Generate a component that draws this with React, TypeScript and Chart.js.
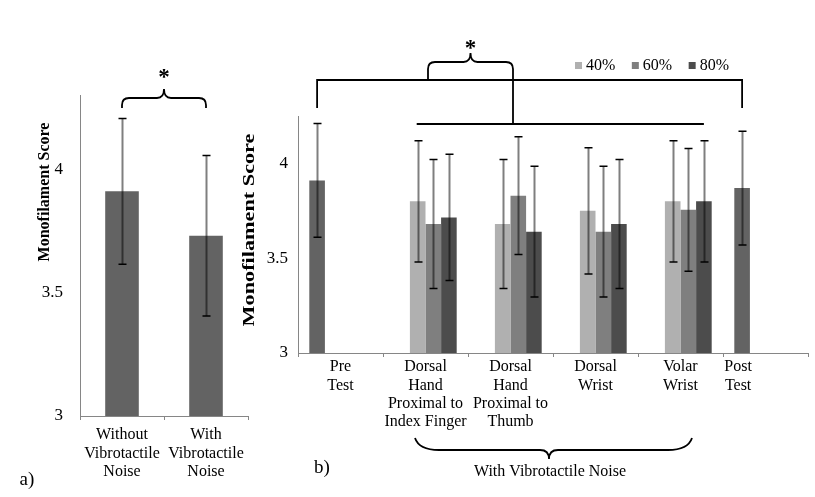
import React, { useEffect, useRef } from 'react';
import { Chart, registerables } from 'chart.js';

Chart.register(...registerables);

const FONT = "'Liberation Serif', 'Times New Roman', serif";

// ---- Panel a data ----
const A_LABELS = [
  ['Without', 'Vibrotactile', 'Noise'],
  ['With', 'Vibrotactile', 'Noise'],
];
const A_MEANS = [3.91, 3.73];
const A_ERRORS = [0.295, 0.325];
const A_TICKS = [3, 3.5, 4];

// ---- Panel b data ----
const B_LABELS = [
  ['Pre', 'Test'],
  ['Dorsal', 'Hand', 'Proximal to', 'Index Finger'],
  ['Dorsal', 'Hand', 'Proximal to', 'Thumb'],
  ['Dorsal', 'Wrist'],
  ['Volar', 'Wrist'],
  ['Post', 'Test'],
];
const B_SERIES = ['Pre/Post Test', '40%', '60%', '80%'];
const B_PREPOST = [3.91, null, null, null, null, 3.87];
const B_PREPOST_ERR = [0.3, null, null, null, null, 0.3];
const B_40 = [null, 3.8, 3.68, 3.75, 3.8, null];
const B_40_ERR = [null, 0.32, 0.34, 0.333, 0.32, null];
const B_60 = [null, 3.68, 3.83, 3.64, 3.755, null];
const B_60_ERR = [null, 0.34, 0.31, 0.345, 0.324, null];
const B_80 = [null, 3.715, 3.64, 3.68, 3.8, null];
const B_80_ERR = [null, 0.333, 0.345, 0.34, 0.32, null];
const B_TICKS = [3, 3.5, 4];
const B_COLORS = ['#636363', '#b0b0b0', '#7f7f7f', '#4c4c4c'];

const errorBarPlugin = {
  id: 'errorBars',
  afterDatasetsDraw(chart: any) {
    const ctx = chart.ctx;
    const ys = chart.scales.y;
    chart.data.datasets.forEach((ds: any, i: number) => {
      const errs = ds.errors;
      if (!errs) return;
      const meta = chart.getDatasetMeta(i);
      meta.data.forEach((bar: any, j: number) => {
        const v = ds.data[j];
        const e = errs[j];
        if (v == null || e == null) return;
        const x = Math.round(bar.x) + 0.5;
        const yt = ys.getPixelForValue(v + e);
        const yb = ys.getPixelForValue(v - e);
        ctx.save();
        ctx.strokeStyle = 'rgba(0,0,0,0.5)';
        ctx.lineWidth = 2;
        ctx.beginPath();
        ctx.moveTo(x, yt);
        ctx.lineTo(x, yb);
        ctx.stroke();
        ctx.strokeStyle = '#000';
        ctx.lineWidth = 1.5;
        ctx.beginPath();
        ctx.moveTo(x - 4, yt);
        ctx.lineTo(x + 4, yt);
        ctx.moveTo(x - 4, yb);
        ctx.lineTo(x + 4, yb);
        ctx.stroke();
        ctx.restore();
      });
    });
  },
};

function rotatedText(ctx: CanvasRenderingContext2D, text: string, cx: number, cy: number, font: string, stretch: number) {
  ctx.save();
  ctx.translate(cx, cy);
  ctx.rotate(-Math.PI / 2);
  ctx.scale(stretch, 1);
  ctx.font = font;
  ctx.fillStyle = '#000';
  ctx.textAlign = 'center';
  ctx.textBaseline = 'middle';
  ctx.fillText(text, 0, 0);
  ctx.restore();
}

function text(ctx: CanvasRenderingContext2D, t: string, x: number, y: number, font: string, align: CanvasTextAlign = 'center', baseline: CanvasTextBaseline = 'middle') {
  ctx.save();
  ctx.font = font;
  ctx.fillStyle = '#000';
  ctx.textAlign = align;
  ctx.textBaseline = baseline;
  ctx.fillText(t, x, y);
  ctx.restore();
}

// upward pointing brace: legs end at yEnd (left) / yEndR (right)
function braceUp(ctx: CanvasRenderingContext2D, x1: number, x2: number, yEnd: number, yEndR: number, yTop: number, apexX: number, yApex: number, r: number) {
  ctx.beginPath();
  ctx.moveTo(x1, yEnd);
  ctx.lineTo(x1, yTop + r);
  ctx.quadraticCurveTo(x1, yTop, x1 + r, yTop);
  ctx.lineTo(apexX - r, yTop);
  ctx.quadraticCurveTo(apexX, yTop, apexX, yApex);
  ctx.quadraticCurveTo(apexX, yTop, apexX + r, yTop);
  ctx.lineTo(x2 - r, yTop);
  ctx.quadraticCurveTo(x2, yTop, x2, yTop + r);
  ctx.lineTo(x2, yEndR);
  ctx.stroke();
}

const annotationsA = {
  id: 'annotA',
  afterDraw(chart: any) {
    const ctx = chart.ctx;
    const bars = chart.getDatasetMeta(0).data;
    rotatedText(ctx, 'Monofilament Score', 45, 192, `bold 16px ${FONT}`, 1);
    ctx.save();
    ctx.strokeStyle = '#000';
    ctx.lineWidth = 1.8;
    const x1 = bars[0].x;
    const x2 = bars[1].x;
    const mid = (x1 + x2) / 2;
    braceUp(ctx, x1, x2, 108, 108, 98, mid, 89, 7);
    ctx.restore();
    text(ctx, '*', mid, 84, `bold 23px ${FONT}`, 'center', 'alphabetic');
    text(ctx, 'a)', 27, 480, `19px ${FONT}`);
  },
};

const annotationsB = {
  id: 'annotB',
  afterDraw(chart: any) {
    const ctx = chart.ctx;
    const xs = chart.scales.x;
    const area = chart.chartArea;
    const pre = chart.getDatasetMeta(0).data;
    const d40 = chart.getDatasetMeta(1).data;
    const d80 = chart.getDatasetMeta(3).data;
    const n = B_LABELS.length;

    // category labels
    B_LABELS.forEach((lines, i) => {
      const cx = i === n - 1 ? pre[i].x - 4 : xs.getPixelForValue(i);
      lines.forEach((ln, k) => {
        text(ctx, ln, cx, area.bottom + 14 + k * 18.4, `16px ${FONT}`);
      });
    });

    rotatedText(ctx, 'Monofilament Score', 20, 230, `bold 16px ${FONT}`, 1.39);

    // legend
    ctx.save();
    ctx.font = `16px ${FONT}`;
    let lx = 345;
    for (let s = 1; s < B_SERIES.length; s++) {
      ctx.fillStyle = B_COLORS[s];
      ctx.fillRect(lx, 62, 7, 7);
      ctx.fillStyle = '#000';
      ctx.textAlign = 'left';
      ctx.textBaseline = 'middle';
      ctx.fillText(B_SERIES[s], lx + 11, 66);
      lx += 11 + ctx.measureText(B_SERIES[s]).width + 16.5;
    }
    ctx.restore();

    ctx.save();
    ctx.strokeStyle = '#000';
    ctx.lineWidth = 1.8;
    // big bracket
    const bx1 = pre[0].x;
    const bx2 = pre[n - 1].x;
    ctx.beginPath();
    ctx.moveTo(bx1, 108);
    ctx.lineTo(bx1, 80);
    ctx.lineTo(bx2, 80);
    ctx.lineTo(bx2, 108);
    ctx.stroke();
    // lower line over noise conditions
    ctx.beginPath();
    ctx.moveTo(d40[1].x - 1, 124);
    ctx.lineTo(d80[n - 2].x, 124);
    ctx.stroke();
    // curly brace joining
    braceUp(ctx, 198, 283, 80, 124, 62, 240.5, 53, 7);
    // bottom brace (pointing down)
    const y0 = 438, yh = 450, ya = 459, apx = 319, L = 185, R = 462;
    ctx.beginPath();
    ctx.moveTo(L, y0);
    ctx.quadraticCurveTo(L + 4, yh, L + 24, yh);
    ctx.lineTo(apx - 9, yh);
    ctx.quadraticCurveTo(apx, yh, apx, ya);
    ctx.quadraticCurveTo(apx, yh, apx + 9, yh);
    ctx.lineTo(R - 24, yh);
    ctx.quadraticCurveTo(R - 4, yh, R, y0);
    ctx.stroke();
    ctx.restore();

    text(ctx, '*', 240.5, 55, `bold 23px ${FONT}`, 'center', 'alphabetic');
    text(ctx, 'With Vibrotactile Noise', 320, 472, `16px ${FONT}`);
    text(ctx, 'b)', 92, 468, `19px ${FONT}`);
  },
};

const tickFmt = (v: any) => String(Number(v));

export default function App() {
  const refA = useRef<HTMLCanvasElement>(null);
  const refB = useRef<HTMLCanvasElement>(null);

  useEffect(() => {
    const axisGray = '#868686';
    const chartA = new Chart(refA.current as HTMLCanvasElement, {
      type: 'bar',
      data: {
        labels: A_LABELS,
        datasets: [
          {
            label: 'Monofilament Score',
            data: A_MEANS,
            errors: A_ERRORS,
            backgroundColor: '#636363',
            barPercentage: 0.4,
            categoryPercentage: 1,
          } as any,
        ],
      },
      options: {
        responsive: false,
        animation: false,
        layout: { padding: { left: 0, right: 12, top: 95, bottom: 0 } },
        plugins: { legend: { display: false }, tooltip: { enabled: false }, title: { display: false } },
        scales: {
          x: {
            grid: { display: true, drawOnChartArea: false, drawTicks: true, tickLength: 4, color: axisGray, offset: true },
            border: { display: true, color: axisGray, width: 1 },
            ticks: {
              font: { family: FONT, size: 16, lineHeight: 1.15 },
              color: '#000',
              padding: 6,
              maxRotation: 0,
              minRotation: 0,
              autoSkip: false,
            },
            afterFit: (s: any) => {
              s.height = 81;
            },
          },
          y: {
            min: 3,
            max: 4.3,
            grid: { display: false, drawTicks: false },
            border: { display: true, color: axisGray, width: 1 },
            ticks: { font: { family: FONT, size: 17 }, color: '#000', padding: 17, callback: tickFmt },
            afterBuildTicks: (s: any) => {
              s.ticks = A_TICKS.map((v) => ({ value: v }));
            },
            afterFit: (s: any) => {
              s.width = 80;
            },
          },
        },
      },
      plugins: [errorBarPlugin, annotationsA],
    } as any);

    const dsB = [
      [B_PREPOST, B_PREPOST_ERR],
      [B_40, B_40_ERR],
      [B_60, B_60_ERR],
      [B_80, B_80_ERR],
    ].map(([d, e], i) => ({
      label: B_SERIES[i],
      data: d,
      errors: e,
      backgroundColor: B_COLORS[i],
      barPercentage: 1,
      categoryPercentage: 0.734,
    }));

    const chartB = new Chart(refB.current as HTMLCanvasElement, {
      type: 'bar',
      data: { labels: B_LABELS, datasets: dsB as any },
      options: {
        responsive: false,
        animation: false,
        layout: { padding: { left: 0, right: 7, top: 116, bottom: 0 } },
        plugins: { legend: { display: false }, tooltip: { enabled: false }, title: { display: false } },
        scales: {
          x: {
            grid: { display: true, drawOnChartArea: false, drawTicks: true, tickLength: 4, color: axisGray, offset: true },
            border: { display: true, color: axisGray, width: 1 },
            ticks: { display: false },
            afterFit: (s: any) => {
              s.height = 144;
            },
          },
          y: {
            min: 3,
            max: 4.25,
            grid: { display: false, drawTicks: false },
            border: { display: true, color: axisGray, width: 1 },
            ticks: { font: { family: FONT, size: 17 }, color: '#000', padding: 10, callback: tickFmt },
            afterBuildTicks: (s: any) => {
              s.ticks = B_TICKS.map((v) => ({ value: v }));
            },
            afterFit: (s: any) => {
              s.width = 68;
            },
          },
        },
      },
      plugins: [errorBarPlugin, annotationsB],
    } as any);

    return () => {
      chartA.destroy();
      chartB.destroy();
    };
  }, []);

  return (
    <div style={{ position: 'absolute', left: 0, top: 0, width: 815, height: 497, background: '#fff' }}>
      <canvas ref={refA} width={260} height={497} style={{ position: 'absolute', left: 0, top: 0, width: 260, height: 497 }} />
      <canvas ref={refB} width={585} height={497} style={{ position: 'absolute', left: 230, top: 0, width: 585, height: 497 }} />
    </div>
  );
}
